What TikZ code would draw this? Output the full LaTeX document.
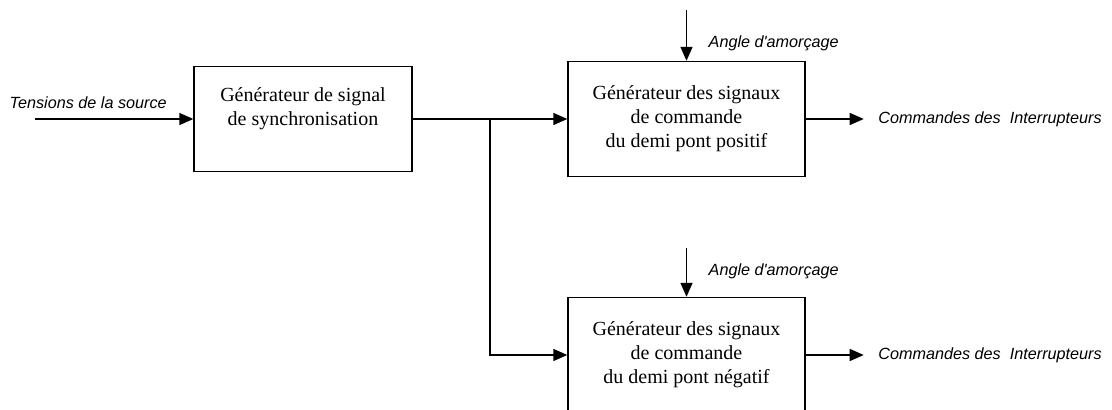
\documentclass[tikz,border=0pt]{standalone}
\usepackage{fontspec}
\setmainfont{Liberation Serif}
\newfontfamily\labelfont{Liberation Sans}
\usetikzlibrary{positioning,arrows.meta}

\tikzset{
  bloc/.style={draw, align=center, font=\fontsize{10}{12}\selectfont,
    minimum width=118.5pt, minimum height=57.5pt},
  lbl/.style={inner sep=0pt, anchor=west,
    font=\labelfont\itshape\fontsize{8.1}{10}\selectfont},
}

\begin{document}
\begin{tikzpicture}[x=0.5pt, y=-0.5pt, line width=0.7pt,
    >={Triangle[length=7pt, width=6pt]}]
  \useasboundingbox (0,0) rectangle (1112,410);

  % blocs
  \node [bloc, minimum width=109pt, minimum height=52.5pt](sync) at (303,119)
    {G\'en\'erateur de signal\\de synchronisation\\\mbox{}};
  \node [bloc](pos) at (686.5,119)
    {G\'en\'erateur des signaux\\de commande\\du demi pont positif};
  \node [bloc](neg) at (686.5,355)
    {G\'en\'erateur des signaux\\de commande\\du demi pont n\'egatif};

  % entrees
  \coordinate (in) at (35,119);
  \coordinate (br) at (490,119);
  \coordinate (a1) at (686.5,10);
  \coordinate (a2) at (686.5,248);

  \node [lbl](src) at (9,103) {Tensions de la source};
  \node [lbl](ang1) at (708,43) {Angle d'amor\c{c}age};
  \node [lbl](ang2) at (708,271) {Angle d'amor\c{c}age};

  \draw [->] (in) -- (sync.west);
  \draw [->] (sync.east) -- (pos.west);
  \draw [->] (br) |- (neg.west);
  \draw [->] (a1) -- (pos.north);
  \draw [->] (a2) -- (neg.north);

  % sorties
  \draw [->] (pos.east) -- ++(58,0) coordinate (s1);
  \draw [->] (neg.east) -- ++(58,0) coordinate (s2);
  \node [lbl, right=7pt of s1](cmd1) {Commandes des \ Interrupteurs};
  \node [lbl, right=7pt of s2](cmd2) {Commandes des \ Interrupteurs};
\end{tikzpicture}
\end{document}
